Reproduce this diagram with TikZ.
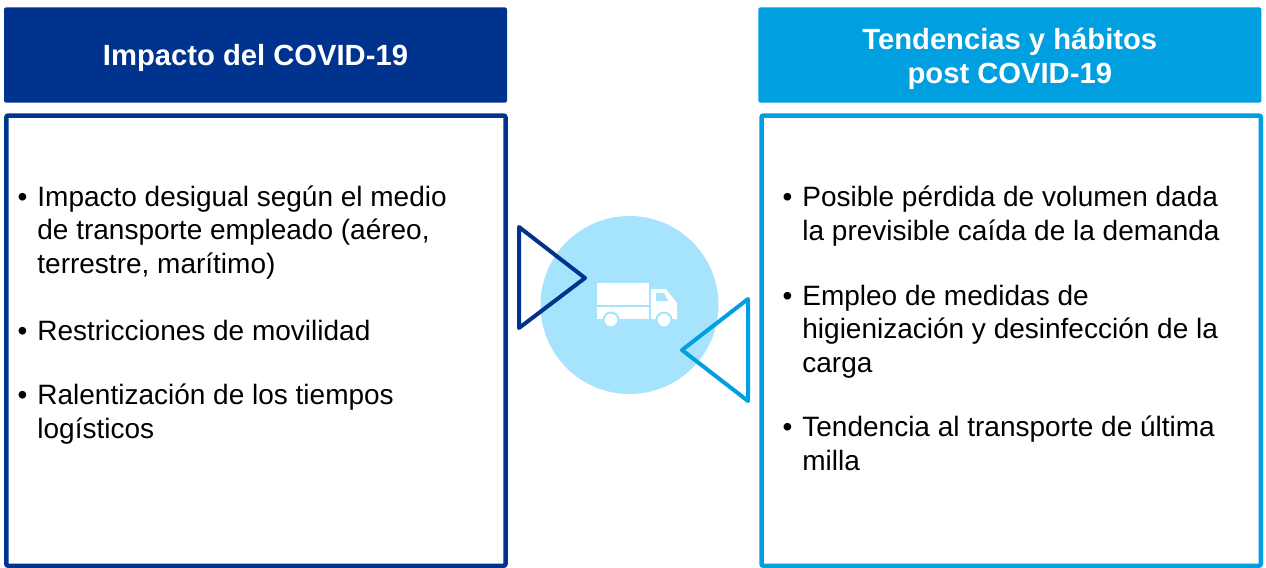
\documentclass[tikz,border=0pt]{standalone}
\usepackage{fontspec}
\setmainfont{Liberation Sans}
\usetikzlibrary{positioning}
\definecolor{covidblue}{HTML}{00338D}
\definecolor{postblue}{HTML}{009FDF}
\definecolor{truckbg}{HTML}{A5E4FC}

\tikzset{
  headbox/.style={fill=#1, rounded corners=1pt, inner sep=0pt,
    minimum width=251.5pt, minimum height=47.6pt},
  headtitle/.style={anchor=base, inner sep=0pt, text=white, align=center,
    font=\bfseries\fontsize{14.6}{17}\selectfont},
  listbox/.style={draw=#1, line width=2.25pt, rounded corners=1pt},
  bulletitem/.style={anchor=base west, inner sep=0pt, align=left,
    font=\fontsize{14}{16.75}\selectfont},
  tri/.style={draw=#1, line width=2pt, line join=round},
}
\newcommand{\bul}{\llap{\textbullet\hspace{5pt}}}

\begin{document}
\begin{tikzpicture}[x=0.5pt, y=-0.5pt]
        \useasboundingbox (0,0) rectangle (1266,568);

        % Headers (text placed by the baseline of its last line)
        \node[headbox=covidblue] (hdrImpact) at (255.5,55) {};
        \node[headbox=postblue] (hdrPost) at (1009.8,55) {};
        \node[headtitle] (ttlImpact) at (255.5,65) {Impacto del COVID-19};
        \node[headtitle] (ttlPost) at (1009.8,83) {Tendencias y hábitos\\post COVID-19};

        % Content frames
        \draw[listbox=covidblue] (6.3,115.5) rectangle (505.5,565.8);
        \draw[listbox=postblue] (761.5,115.5) rectangle (1260.8,565.8);

        % Left list
        \node[bulletitem] (impA) at (37,273) {\bul Impacto desigual según el medio\\de transporte empleado (aéreo,\\terrestre, marítimo)};
        \node[bulletitem] (impB) at (37,340) {\bul Restricciones de movilidad};
        \node[bulletitem] (impC) at (37,438) {\bul Ralentización de los tiempos\\logísticos};

        % Right list
        \node[bulletitem] (postA) at (802,240) {\bul Posible pérdida de volumen dada\\la previsible caída de la demanda};
        \node[bulletitem] (postB) at (802,372) {\bul Empleo de medidas de\\higienización y desinfección de la\\carga};
        \node[bulletitem] (postC) at (802,470) {\bul Tendencia al transporte de última\\milla};

        % Central icon
        \node[circle, fill=truckbg, minimum size=89pt, inner sep=0pt] (hub) at (629.5,305) {};
        \begin{scope}[fill=white]
            \fill (597,283) rectangle (649,305);
            \fill (597,307) rectangle (649,319);
            \fill (651,289) -- (666,289) -- (677,303) -- (677,319) -- (651,319) -- cycle;
            \fill[truckbg] (656,293) -- (664,293) -- (668,301) -- (656,301) -- cycle;
            \filldraw[draw=truckbg, line width=1pt] (611,320) circle (7.5);
            \filldraw[draw=truckbg, line width=1pt] (664,320) circle (7.5);
        \end{scope}

        % Triangles
        \draw[tri=covidblue] (519,227) -- (585,278) -- (519,328) -- cycle;
        \draw[tri=postblue] (748,299) -- (682,350) -- (748,401) -- cycle;
\end{tikzpicture}
\end{document}
